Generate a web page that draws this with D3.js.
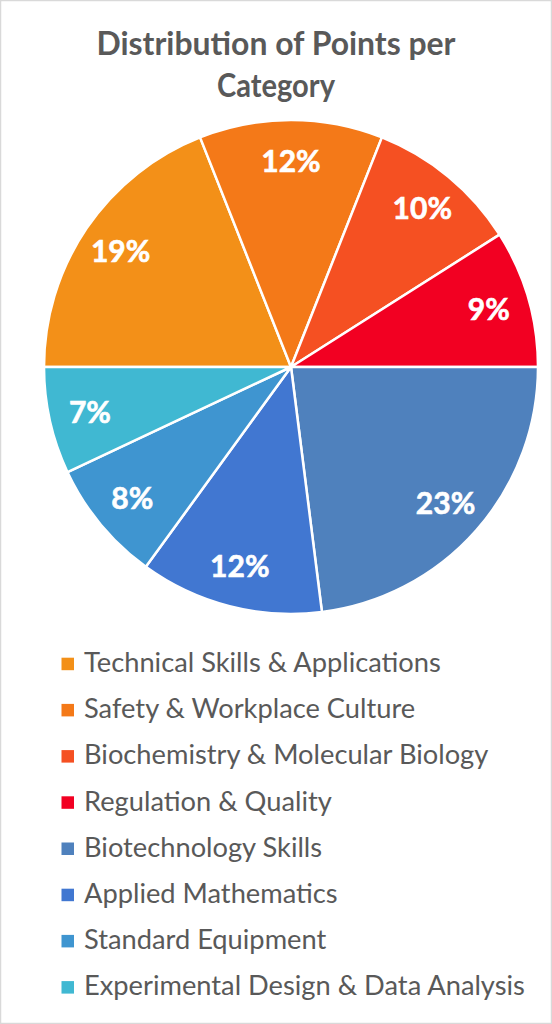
<!DOCTYPE html>
<html>
<head>
<meta charset="utf-8">
<script src="https://cdn.jsdelivr.net/npm/d3@7"></script>
<style>
  html, body { margin: 0; padding: 0; background: #fff; }
  svg { display: block; }
</style>
</head>
<body>
<svg id="chart" width="552" height="1024"></svg>
<script>
const categories = [
  "Technical Skills & Applications",
  "Safety & Workplace Culture",
  "Biochemistry & Molecular Biology",
  "Regulation & Quality",
  "Biotechnology Skills",
  "Applied Mathematics",
  "Standard Equipment",
  "Experimental Design & Data Analysis"
];
const values = [19, 12, 10, 9, 23, 12, 8, 7];
const colors = ["#F39018", "#F47918", "#F55022", "#F20022", "#4F81BD", "#4177D1", "#3F95D0", "#40B8D2"];
const titleLines = ["Distribution of Points per", "Category"];

const W = 552, H = 1024;
const svg = d3.select("#chart");
const FONT = "Lato, 'Open Sans', sans-serif";

svg.append("rect").attr("x", 0.5).attr("y", 0.5).attr("width", W - 1).attr("height", H - 1)
  .attr("fill", "#fff").attr("stroke", "#d9d9d9").attr("stroke-width", 1.5);

// Title
const titleWidths = [359, 118];
const title = svg.append("text").attr("text-anchor", "middle")
  .attr("font-family", FONT).attr("font-weight", 700).attr("font-size", 32).attr("fill", "#595959");
titleLines.forEach((t, i) => {
  const ts = title.append("tspan").attr("x", W / 2).attr("y", 55 + i * 42).text(t);
  const w = ts.node().getComputedTextLength();
  if (w > titleWidths[i]) ts.attr("textLength", titleWidths[i]).attr("lengthAdjust", "spacingAndGlyphs");
});

// Pie
const cx = 291, cy = 367, R = 247;
const pie = d3.pie().sort(null).value(d => d)
  .startAngle(-Math.PI / 2).endAngle(3 * Math.PI / 2);
const arcs = pie(values);
const arc = d3.arc().innerRadius(0).outerRadius(R);
const labelArc = d3.arc().innerRadius(206).outerRadius(206);
const total = d3.sum(values);

const g = svg.append("g").attr("transform", `translate(${cx},${cy})`);
g.selectAll("path.slice").data(arcs).join("path")
  .attr("class", "slice")
  .attr("d", arc)
  .attr("fill", (d, i) => colors[i])
  .attr("stroke", "#fff").attr("stroke-width", 2.5).attr("stroke-linejoin", "round");

g.selectAll("text.lbl").data(arcs).join("text")
  .attr("class", "lbl")
  .attr("transform", d => `translate(${labelArc.centroid(d)})`)
  .attr("text-anchor", "middle").attr("dy", "0.36em")
  .attr("font-family", FONT).attr("font-weight", 700).attr("font-size", 30)
  .attr("fill", "#fff")
  .attr("stroke", "#fff").attr("stroke-width", 0.6)
  .text(d => Math.round(d.value / total * 100) + "%");

// Legend
const lg = svg.append("g");
const rows = lg.selectAll("g").data(categories).join("g")
  .attr("transform", (d, i) => `translate(0, ${664 + i * 46.2})`);
rows.append("rect").attr("x", 61.5).attr("y", -6.3).attr("width", 12.5).attr("height", 12.5)
  .attr("fill", (d, i) => colors[i]);
const ltext = rows.append("text").attr("x", 84).attr("y", 8)
  .attr("font-family", FONT).attr("font-size", 24).attr("fill", "#595959")
  .text(d => d);
{
  const w = ltext.nodes()[7].getComputedTextLength();
  ltext.attr("font-size", 24 * 441 / w);
}
</script>
</body>
</html>
